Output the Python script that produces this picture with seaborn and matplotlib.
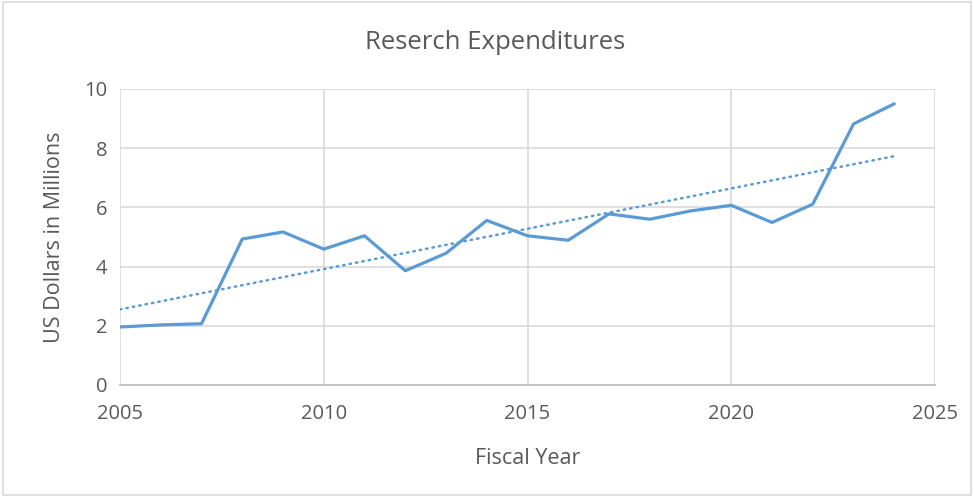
import numpy as np
import pandas as pd
import matplotlib
matplotlib.use("Agg")
import matplotlib.pyplot as plt
import seaborn as sns

# Data
years = [2005, 2006, 2007, 2008, 2009, 2010, 2011, 2012, 2013, 2014,
         2015, 2016, 2017, 2018, 2019, 2020, 2021, 2022, 2023, 2024]
expenditures = [1.96, 2.03, 2.07, 4.93, 5.17, 4.59, 5.04, 3.86, 4.45, 5.56,
                5.04, 4.89, 5.78, 5.60, 5.88, 6.07, 5.49, 6.11, 8.82, 9.50]
x_ticks = [2005, 2010, 2015, 2020, 2025]
y_ticks = [0, 2, 4, 6, 8, 10]

df = pd.DataFrame({"year": years, "value": expenditures})

# linear trendline like Excel
slope, intercept = np.polyfit(df["year"], df["value"], 1)
df["trend"] = slope * df["year"] + intercept

sns.set_style("white")
plt.rcParams["font.family"] = ["Open Sans", "DejaVu Sans"]

text_color = "#595959"
line_color = "#5B9BD5"

fig = plt.figure(figsize=(9.74, 4.96), dpi=100)
ax = fig.add_axes([0.1232, 0.2238, 0.8368, 0.5968])

sns.lineplot(data=df, x="year", y="value", ax=ax, color=line_color, linewidth=2.3)
sns.lineplot(data=df, x="year", y="trend", ax=ax, color=line_color, linewidth=1.8,
             linestyle=(0, (0.6, 2.0)), dash_capstyle="round")

ax.set_xlim(2005, 2025)
ax.set_ylim(0, 10)
ax.set_xticks(x_ticks)
ax.set_yticks(y_ticks)
ax.grid(True, color="#d9d9d9", linewidth=1.2)
ax.set_axisbelow(True)
for side in ["top", "right", "left"]:
    ax.spines[side].set_visible(False)
ax.spines["bottom"].set_color("#bfbfbf")
ax.spines["bottom"].set_linewidth(1.3)
ax.tick_params(axis="both", length=0, labelsize=14.5, colors=text_color, pad=9)
ax.tick_params(axis="x", pad=14)

ax.set_xlabel("Fiscal Year", fontsize=15.5, color=text_color, labelpad=17)
ax.set_ylabel("US Dollars in Millions", fontsize=15.5, color=text_color, labelpad=14)
ax.set_title("")
# title is centred on the whole chart, not the plot area
fig.text(0.508, 0.915, "Reserch Expenditures", ha="center", va="center",
         fontsize=18.5, color=text_color)

# chart border
fig.patches.append(plt.Rectangle((0.003, 0.003), 0.994, 0.992, transform=fig.transFigure,
                                 fill=False, edgecolor="#d9d9d9", linewidth=1.2))

fig.savefig("out.png", dpi=100)
